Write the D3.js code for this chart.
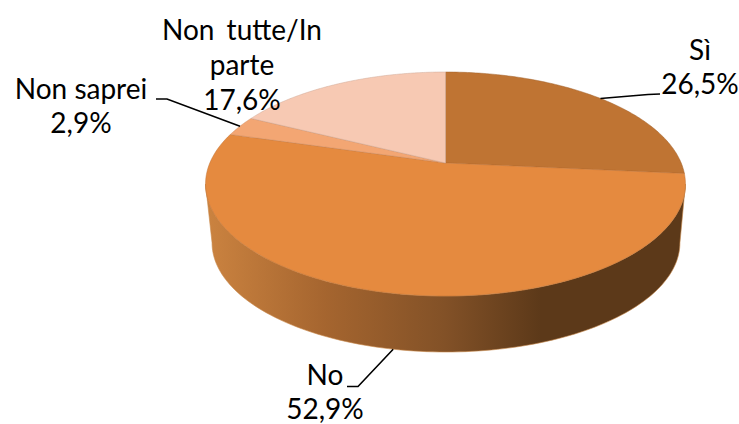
<!DOCTYPE html>
<html><head><meta charset="utf-8">
<style>html,body{margin:0;background:#fff}svg{display:block}
text{font-family:"Lato",sans-serif;font-size:28px;fill:#000}</style>
<script src="https://cdn.jsdelivr.net/npm/d3@7/dist/d3.min.js"></script>
</head><body><svg id="c" width="739" height="424"></svg>
<script>
const categories = ["Sì","No","Non saprei","Non tutte/In parte"];
const values = [26.5,52.9,2.9,17.6];
const labelLines = [["Sì","26,5%"],["No","52,9%"],["Non saprei","2,9%"],["Non tutte/In","parte","17,6%"]];
const colors = ["#bf7433","#e58a3f","#f3a673","#f7c9b3"];
const labelX = [700,325,81,242];
const labelY = [60,385,99,40];
const lineGap = [34,33.5,34,35];
const wordGap = [0,0,0,5];
const leaderBends = [[[648,94.5],[660,94]],[[358,386.5],[347,386.5]],[[167,99],[156,99]],null];

const svg = d3.select("#c");
const C = -0.1875;
function proj(face){ return (a)=>{
  const x=Math.sin(a), y=-Math.cos(a), d=1+C*y;
  return [face.cx+face.k*x/d, face.cy+face.a*y/d];
};}
const topFace = proj({cx:445.5,cy:163,k:235.7,a:108.06});
const botFace = proj({cx:446,cy:222.3,k:229.8,a:105.4});

const arcs = d3.pie().sort(null).value(d=>d)(values);
const line = d3.line();
const steps = (a0,a1,n=120)=>d3.range(n+1).map(i=>a0+(a1-a0)*i/n);

const grad = svg.append("defs").append("linearGradient").attr("id","wall")
  .attr("gradientUnits","userSpaceOnUse").attr("x1",206).attr("x2",685).attr("y1",0).attr("y2",0);
[[0,"#cb8340"],[0.25,"#a5652f"],[0.5,"#825127"],[0.7,"#5c3919"],[1,"#5c3919"]]
  .forEach(s=>grad.append("stop").attr("offset",s[0]).attr("stop-color",s[1]));
const tilt = Math.asin(0.1875);
const aR = Math.PI/2+tilt, aL = 3*Math.PI/2-tilt;
const wall = steps(aR,aL).map(topFace).concat(steps(aL,aR).map(botFace));
svg.append("path").attr("d",line(wall)+"Z").attr("fill","url(#wall)").attr("stroke","#c98a4c").attr("stroke-width",0.6);

const centre=[445.5,163];
arcs.forEach((d,i)=>{
  svg.append("path").attr("d",line([centre].concat(steps(d.startAngle,d.endAngle).map(topFace)))+"Z")
    .attr("fill",colors[i]).attr("stroke",d3.color(colors[i]).darker(0.5)).attr("stroke-width",0.5);
});

arcs.forEach((d,i)=>{
  if(!leaderBends[i]) return;
  const mid=(d.startAngle+d.endAngle)/2;
  const p = i===1? botFace(mid): topFace(mid);
  svg.append("path").attr("d",line([p].concat(leaderBends[i]))).attr("fill","none").attr("stroke","#000").attr("stroke-width",1.6);
});

labelLines.forEach((ls,i)=>{
  const t=svg.append("text").attr("text-anchor","middle").style("word-spacing",wordGap[i]+"px");
  ls.forEach((s,j)=>t.append("tspan").attr("x",labelX[i]).attr("y",labelY[i]+j*lineGap[i]).text(s));
});
</script></body></html>
